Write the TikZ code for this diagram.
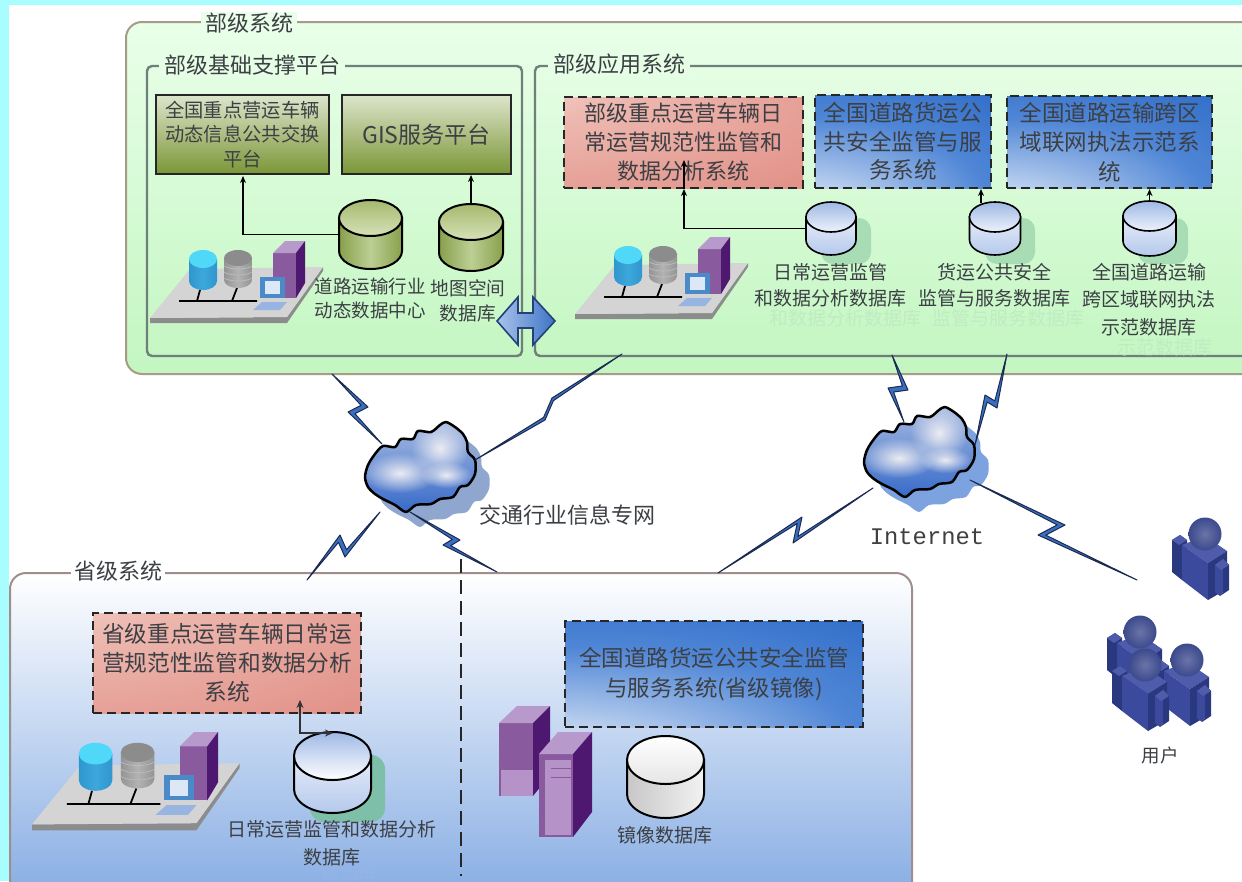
\documentclass[tikz,border=0pt]{standalone}
\usepackage{fontspec}
\setmainfont{Noto Sans CJK SC}
\newfontfamily\latinmono{Liberation Mono}
\usetikzlibrary{arrows.meta,calc,fadings}
\tikzfading[name=softblob,inner color=transparent!0,outer color=transparent!100]
\definecolor{edgecyan}{HTML}{A8FDFF}
\definecolor{ink}{HTML}{3C3F44}
\definecolor{ghost}{HTML}{BFECC1}
\definecolor{ghostb}{HTML}{93B4E6}
\definecolor{pinkend}{HTML}{E2938A}
\definecolor{pinkmid}{HTML}{EDB9B0}
\definecolor{pinkstart}{HTML}{FBF0EC}
\definecolor{blueend}{HTML}{2766C4}
\definecolor{bluemid}{HTML}{4F86D6}
\definecolor{bluepale}{HTML}{C2D5F0}
\definecolor{frameline}{HTML}{6F7F7A}
\definecolor{panelA}{HTML}{A59C88}
\definecolor{panelB}{HTML}{A08E8C}
\definecolor{oliveL}{HTML}{DDE5CC}
\definecolor{oliveD}{HTML}{7A9636}
\definecolor{cylG1}{HTML}{88A04C}
\definecolor{cylG2}{HTML}{BCCF94}
\definecolor{cylG3}{HTML}{A5BA6E}
\definecolor{cylG4}{HTML}{D6E1B8}
\definecolor{cylB1}{HTML}{E6EDF9}
\definecolor{cylB2}{HTML}{B5C9EC}
\definecolor{cylB3}{HTML}{9FB9E5}
\definecolor{cylB4}{HTML}{EDF2FB}
\definecolor{steelA}{HTML}{2F97CF}
\definecolor{steelB}{HTML}{3DA6DA}
\definecolor{steelC}{HTML}{4FD8F8}
\definecolor{srvF}{HTML}{8A5A9F}
\definecolor{srvT}{HTML}{B79ACB}
\definecolor{srvS}{HTML}{4E1870}
\definecolor{srvL}{HTML}{B592C8}
\definecolor{lapA}{HTML}{4A8AC8}
\definecolor{lapB}{HTML}{DCE7F7}
\definecolor{lapC}{HTML}{98B5E2}
\definecolor{perF}{HTML}{3C4A9E}
\definecolor{perS}{HTML}{2A3880}
\definecolor{perT}{HTML}{4F5CAB}
\definecolor{perH}{HTML}{6A74A8}
\definecolor{perO}{HTML}{3C4A8C}
\definecolor{boltB}{HTML}{3A6FBF}
\definecolor{boltD}{HTML}{1B2A50}
\definecolor{shadeG}{HTML}{A8DCB4}
\definecolor{shadeP}{HTML}{7DBFA8}
\definecolor{arrL}{HTML}{A9C3EA}
\definecolor{arrR}{HTML}{3E74C6}
\definecolor{arrD}{HTML}{25407A}
\definecolor{cloudT}{HTML}{A9BCE2}
\definecolor{cloudB}{HTML}{3468C8}
\definecolor{shadowA}{HTML}{8FA6CE}
\definecolor{shadowB}{HTML}{7CA3E0}
\definecolor{provEnd}{HTML}{86ACE3}
\definecolor{greenEnd}{HTML}{C3F6C1}
\definecolor{greenTop}{HTML}{E9FFE9}
\definecolor{blobwhite}{HTML}{ECECF2}
\pgfdeclareradialshading{pinkcorner}{\pgfpoint{-50bp}{50bp}}{color(0bp)=(pinkstart); color(30bp)=(pinkmid); color(70bp)=(pinkend); color(150bp)=(pinkend)}
\pgfdeclareradialshading{bluecorner}{\pgfpoint{-35bp}{-52bp}}{color(0bp)=(white); color(20bp)=(bluepale); color(48bp)=(bluemid); color(78bp)=(blueend); color(150bp)=(blueend)}
\newcommand\fs[2]{\fontsize{#1}{#2}\selectfont}
\tikzset{
  lbl/.style={text=ink,align=center,inner sep=0pt},
  lbl19/.style={lbl,font=\fs{19}{26}},
  lbl22/.style={lbl,font=\fs{22}{29}},
  ghosttxt/.style={align=center,inner sep=0pt,text=ghost,font=\fs{19}{26}},
  framebox/.style={draw=frameline,line width=2.4pt,rounded corners=5pt},
  title/.style={lbl22,inner xsep=5pt,inner ysep=1pt},
  greenbox/.style={draw=black!85,line width=2pt,top color=oliveL,bottom color=oliveD,inner sep=0pt,align=center,text=ink,rectangle},
  dashbase/.style={draw=black!85,line width=2.2pt,dash pattern=on 9pt off 5pt,inner sep=0pt,align=center,text=ink,rectangle,shade},
  pinkbox/.style={dashbase,shading=pinkcorner},
  bluebox/.style={dashbase,shading=bluecorner},
  link/.style={black,line width=1.3pt,-{Stealth[length=7pt,width=6pt]}},
  outl/.style={draw=black,line width=2pt},
  gbody/.style={outl,left color=cylG1,right color=cylG1,middle color=cylG2},
  gtop/.style={outl,top color=cylG3,bottom color=cylG4},
  bbody/.style={draw=black,line width=1.6pt,top color=cylB1,bottom color=cylB2},
  btop/.style={draw=black,line width=1.6pt,top color=cylB3,bottom color=cylB4},
  pbody/.style={outl,top color=cylB1,bottom color=cylB2},
  ptop/.style={outl,top color=cylB3,bottom color=white},
  wbody/.style={outl,left color=black!22,right color=black!5},
  wtop/.style={outl,top color=white,bottom color=black!10},
  cblue/.style={left color=steelA,right color=steelA,middle color=steelB},
  ctopblue/.style={fill=steelC},
  cgray/.style={left color=black!42,right color=black!42,middle color=black!30},
  ctopgray/.style={fill=black!45},
  shadowgreen/.style={fill=shadeG,rounded corners=12pt},
  boltfill/.style={fill=boltB,draw=boltD,line width=1pt,line join=round},
  cloudedge/.style={draw=black,line width=2.5pt,line join=round},
  blob/.style={fill=blobwhite,path fading=softblob},
  persona/.style={fill=perF},
  personb/.style={fill=perS},
  personc/.style={fill=perT},
}
\newcommand\cylpath[7]{%
  \pgfmathsetmacro\cL{#1-#3}\pgfmathsetmacro\cR{#1+#3}%
  \pgfmathsetmacro\cT{#2+#5}\pgfmathsetmacro\cB{#2+#4-#5}%
  \pgfmathsetmacro\cE{#2+#4}\pgfmathsetmacro\kx{0.5523*#3}\pgfmathsetmacro\ky{0.5523*#5}%
  \path[#6] (\cL,\cT) -- (\cL,\cB) .. controls (\cL,\cB+\ky) and (#1-\kx,\cE) .. (#1,\cE)
    .. controls (#1+\kx,\cE) and (\cR,\cB+\ky) .. (\cR,\cB) -- (\cR,\cT) -- cycle;
  \path[#7] (#1,\cT) ellipse [x radius=#3pt,y radius=#5pt];
}
\newcommand\dbshape[8]{%
  \cylpath{#2}{#3}{#4}{#5}{#6}{#7}{#8}
  \pgfmathsetmacro\cM{#3+#5/2}\pgfmathsetmacro\cW{2*#4}%
  \node[minimum width=\cW pt,minimum height=#5 pt,inner sep=0pt] (#1) at (#2,\cM) {};
}
\newcommand\stationgroup[3]{%
\begin{scope}[shift={(#1,#2)},scale=#3]
  \path[fill=black!45] (0,77) -- (137,76) -- (173,26) -- (173,30) -- (137,82) -- (0,82) -- cycle;
  \path[fill=black!17] (0,77) -- (40,28) -- (173,26) -- (137,76) -- cycle;
  \draw[black,line width=1.8pt] (29,60) -- (107,60) (50,49) -- (47,60) (87,47) -- (82,60);
  \cylpath{53}{9}{14}{40}{9}{cblue}{ctopblue}
  \cylpath{88}{9}{14}{38}{8}{cgray}{ctopgray}
  \draw[black!25,line width=0.6pt] (74,25) .. controls (80,29) and (96,29) .. (102,25)
    (74,31) .. controls (80,35) and (96,35) .. (102,31) (74,37) .. controls (80,41) and (96,41) .. (102,37);
  \path[fill=srvF] (123,12) rectangle (146,57);
  \path[fill=srvT] (123,12) -- (135,0) -- (155,0) -- (146,12) -- cycle;
  \path[fill=srvS] (146,12) -- (155,0) -- (155,42) -- (146,57) -- cycle;
  \path[fill=lapA] (110,36) rectangle (135,57);
  \path[fill=lapB] (115,40) rectangle (130,53);
  \path[fill=lapC] (103,69) -- (130,69) -- (137,61) -- (112,61) -- cycle;
\end{scope}}
\newcommand\personfig[2]{%
\begin{scope}[shift={(#1,#2)}]
  \path[personb] (-33,6) -- (-25,1) -- (-18,6) -- (-18,44) -- (-23,46) -- (-33,38) -- cycle;
  \path[personc] (-33,6) -- (-25,1) -- (-18,6) -- (-26,11) -- cycle;
  \path[personc] (-23,11) -- (0,2) -- (22,17) -- (3,29) -- cycle;
  \path[persona] (-23,11) -- (3,29) -- (3,66) -- (-23,46) -- cycle;
  \path[personb] (3,29) -- (22,17) -- (22,55) -- (3,66) -- cycle;
  \path[persona] (10,31) -- (18,25) -- (18,58) -- (15,62) -- (10,58) -- cycle;
  \path[personb] (18,25) -- (24,31) -- (24,56) -- (15,62) -- (18,58) -- cycle;
  \path[personc] (10,31) -- (18,25) -- (24,31) -- (16,36) -- cycle;
  \shade[inner color=perH,outer color=perO] (0,0) circle[radius=16.5pt];
\end{scope}}
\newcommand\cloudoutline{plot[smooth cycle,tension=0.5] coordinates {(2,55) (5,43) (12,32) (20,24) (32,25) (38,17) (50,17) (55,9) (68,10) (77,3) (83,0) (92,5) (100,12) (104,20) (105,30) (112,38) (112,52) (105,63) (97,65) (90,75) (77,77) (68,82) (53,83) (43,90) (32,83) (20,77) (12,72) (5,65)}}
\newcommand\cloudfig[4]{%
\begin{scope}[shift={(#1,#2)}]
  \path[fill=#4,shift={(14,15)}] \cloudoutline;
  \begin{scope}
    \clip \cloudoutline;
    \path[top color=cloudT,bottom color=cloudB] (-2,-2) rectangle (116,92);
    \path[blob] (37,51) ellipse [x radius=38pt,y radius=20pt];
    \path[blob] (77,26) ellipse [x radius=29pt,y radius=28pt];
    \path[blob] (83,53) ellipse [x radius=26pt,y radius=13pt];
  \end{scope}
  \path[cloudedge] \cloudoutline;
  \node[minimum width=112pt,minimum height=90pt,inner sep=0pt] (#3) at (56,45) {};
\end{scope}}
\newcommand\boltlink[4]{%
  \coordinate (bu) at ($(#1)!1pt!(#4)-(#1)$);
  \path[boltfill] (#1) -- (#2) -- ($(#3)!5pt!(#2) + 3.6*(bu)$) -- (#4) -- (#3) -- ($(#2)!5pt!(#3) - 3.6*(bu)$) -- cycle;
}
\begin{document}
\begin{tikzpicture}[x=1pt,y=-1pt]
\useasboundingbox (0,0) rectangle (1242,881);
\clip (0,0) rectangle (1242,881);
\path[fill=white] (0,0) rectangle (1242,881);
\path[fill=edgecyan] (0,0) rectangle (1242,5);
\path[fill=edgecyan] (0,0) rectangle (9,881);

% ---------- ministry level panel
\path[draw=panelA,line width=2pt,rounded corners=16pt,top color=greenTop,bottom color=greenEnd] (126,22) rectangle (1290,374);
\node[lbl,font=\fs{22}{22},fill=greenTop,inner xsep=4pt,inner ysep=1pt] (ministry) at (249,23) {部级系统};
\path[framebox] (147,66) rectangle (522,356);
\path[framebox] (535,66) rectangle (1290,356);
\node[title,fill=greenTop!90!greenEnd] (baseT) at (252,65) {部级基础支撑平台};
\node[title,fill=greenTop!90!greenEnd] (appT) at (619,64) {部级应用系统};

% platform boxes
\node[greenbox,font=\fs{19.3}{24.5},minimum width=173pt,minimum height=79pt] (exchange) at (242.5,134.5) {全国重点营运车辆\\动态信息公共交换\\平台};
\node[greenbox,font=\fs{23}{28},minimum width=169pt,minimum height=79pt] (gis) at (426.5,134.5) {GIS服务平台};
\dbshape{roadDB}{370.5}{200}{31.5}{69}{18}{gbody}{gtop}
\dbshape{mapDB}{471}{204}{32}{67}{18}{gbody}{gtop}
\coordinate (exchangeIn) at (243,176);
\draw[link] (roadDB.west) -| (exchangeIn);
\draw[link] (mapDB.north) -- (mapDB.north |- gis.south);
\stationgroup{150}{241}{1}
\node[lbl,font=\fs{18.5}{23.5}] (roadL) at (370,298.5) {道路运输行业\\动态数据中心};
\node[lbl,font=\fs{18.7}{25}] (mapL) at (468,300.5) {地图空间\\数据库};

% application boxes
\node[pinkbox,font=\fs{22}{29},minimum width=239pt,minimum height=91pt] (ops) at (683.5,142.5) {部级重点运营车辆日\\常运营规范性监管和\\数据分析系统};
\node[bluebox,font=\fs{22.6}{28.5},minimum width=176pt,minimum height=93pt] (freight) at (903,141.5) {全国道路货运公\\共安全监管与服\\务系统};
\node[bluebox,font=\fs{22.5}{29.5},minimum width=205pt,minimum height=92pt] (cross) at (1109.5,142) {全国道路运输跨区\\域联网执法示范系\\统};
\foreach \sx in {821,985,1138}{\path[shadowgreen] (\sx,218) rectangle ++(50,46);}
\dbshape{opsDB}{831}{202}{25}{53}{15}{bbody}{btop}
\dbshape{freightDB}{995}{202}{25.5}{53}{15}{bbody}{btop}
\dbshape{crossDB}{1149.5}{201}{26.5}{55}{15}{bbody}{btop}
\coordinate (opsUnder) at (684,189);
\coordinate (opsInner) at (684,160);
\coordinate (freightOut) at (981,203);
\coordinate (freightIn) at (981,189);
\draw[link] (opsDB.west) -| (opsUnder);
\draw[link] (opsUnder) -- (opsInner);
\draw[link] (freightOut) -- (freightIn);
\draw[link] (crossDB.north) -- (crossDB.north |- cross.south);
\stationgroup{575}{237}{1}

\node[ghosttxt] (ghostA) at (845,318) {和数据分析数据库};
\node[ghosttxt] (ghostB) at (1008,318) {监管与服务数据库};
\node[ghosttxt] (ghostC) at (1165,347) {示范数据库};
\node[lbl19] (opsL) at (830,285) {日常运营监管\\和数据分析数据库};
\node[lbl19] (freightL) at (994,285) {货运公共安全\\监管与服务数据库};
\node[lbl19,font=\fs{19}{27.5}] (crossL) at (1149,299.5) {全国道路运输\\跨区域联网执法\\示范数据库};

% exchange arrow between the two frames
\path[draw=arrD,line width=1.6pt,line join=miter,left color=arrL,right color=arrR]
  (497,321) -- (518,297) -- (518,313) -- (533,313) -- (533,297) -- (555,321) -- (533,345) -- (533,328) -- (518,328) -- (518,345) -- cycle;

% ---------- provincial panel
\path[draw=panelB,line width=2pt,rounded corners=16pt,top color=white,bottom color=provEnd] (10,573) rectangle (912,900);
\node[lbl,font=\fs{22}{22},fill=white,inner xsep=3pt,inner ysep=0pt] (province) at (118,571) {省级系统};
\coordinate (divTop) at (461,559);
\coordinate (divBottom) at (461,876);
\draw[black!85,line width=1.5pt,dash pattern=on 14pt off 7pt] (divTop) -- (divBottom);
\node[pinkbox,font=\fs{22.7}{29},minimum width=268pt,minimum height=100pt] (provOps) at (227,663) {省级重点运营车辆日常运\\营规范性监管和数据分析\\系统};
\node[bluebox,font=\fs{22.5}{30},minimum width=298pt,minimum height=106pt] (provFreight) at (714,674) {全国道路货运公共安全监管\\与服务系统(省级镜像)};
\stationgroup{32}{732}{1.2}
\path[fill=shadeP,rounded corners=14pt] (310,755) rectangle (385,822);
\dbshape{provDB}{332.5}{732}{38.5}{81}{24}{pbody}{ptop}
\dbshape{mirrorDB}{665.5}{736}{38.5}{82}{24}{wbody}{wtop}
\coordinate (provIn) at (300,700);
\coordinate (provArrive) at (333,733);
\draw[black!80,line width=1.3pt,{Stealth[length=8pt,width=7pt]}-{Stealth[length=8pt,width=7pt]}] (provIn) |- (provArrive);
% mirror servers
\path[fill=srvF] (499,723) rectangle (533,796);
\path[fill=srvT] (499,723) -- (517,706) -- (550,706) -- (533,723) -- cycle;
\path[fill=srvS] (533,723) -- (550,706) -- (550,775) -- (533,796) -- cycle;
\path[fill=srvL] (501,770) rectangle (533,796);
\path[fill=srvF] (539,754) rectangle (573,837);
\path[fill=srvT] (539,754) -- (558,732) -- (592,732) -- (573,754) -- cycle;
\path[fill=srvS] (573,754) -- (592,732) -- (592,812) -- (573,837) -- cycle;
\path[fill=srvL] (545,760) rectangle (571,835);
\draw[srvF,line width=0.9pt] (551,759) -- (571,759) (551,768) -- (571,768) (551,777) -- (571,777);

\node[lbl,text=ghostb,font=\fs{19}{22}] (provGhost) at (350,872) {数据库};
\node[lbl19,font=\fs{19}{28}] (provL) at (332,843) {日常运营监管和数据分析\\数据库};
\node[lbl19] (mirrorL) at (665,835) {镜像数据库};

% ---------- clouds and links
\cloudfig{363}{422}{cloudA}{shadowA}
\cloudfig{862}{407}{cloudB}{shadowB}
\node[lbl22] (netA) at (567,515) {交通行业信息专网};
\node[text=black!75,inner sep=0pt,font=\latinmono\fs{23.8}{26}] (netB) at (927,537) {Internet};

\coordinate (sA) at (332,374);
\coordinate (sB) at (622,354);
\coordinate (sC) at (892,355);
\coordinate (sD) at (1007,354);
\coordinate (cA) at (382,444);
\coordinate (cB) at (475,460);
\coordinate (cC) at (904,422);
\coordinate (cD) at (975,445);
\coordinate (cE) at (380,512);
\coordinate (cF) at (410,512);
\coordinate (cG) at (873,488);
\coordinate (cH) at (970,480);
\coordinate (pA) at (307,580);
\coordinate (pB) at (497,572);
\coordinate (pC) at (718,573);
\coordinate (user) at (1137,580);
\boltlink{sA}{368,407}{348,412}{cA}
\boltlink{sB}{552,398}{545,420}{cB}
\boltlink{sC}{908,390}{888,388}{cC}
\boltlink{sD}{997,408}{985,395}{cD}
\boltlink{cE}{345,557}{340,535}{pA}
\boltlink{cF}{460,540}{443,545}{pB}
\boltlink{cG}{793,543}{802,517}{pC}
\boltlink{cH}{1065,525}{1038,535}{user}

% ---------- users
\personfig{1205}{534}
\personfig{1140}{632}
\personfig{1187}{660}
\personfig{1145}{665}
\node[lbl,font=\fs{18.5}{20}] (users) at (1160,755) {用户};
\end{tikzpicture}
\end{document}
